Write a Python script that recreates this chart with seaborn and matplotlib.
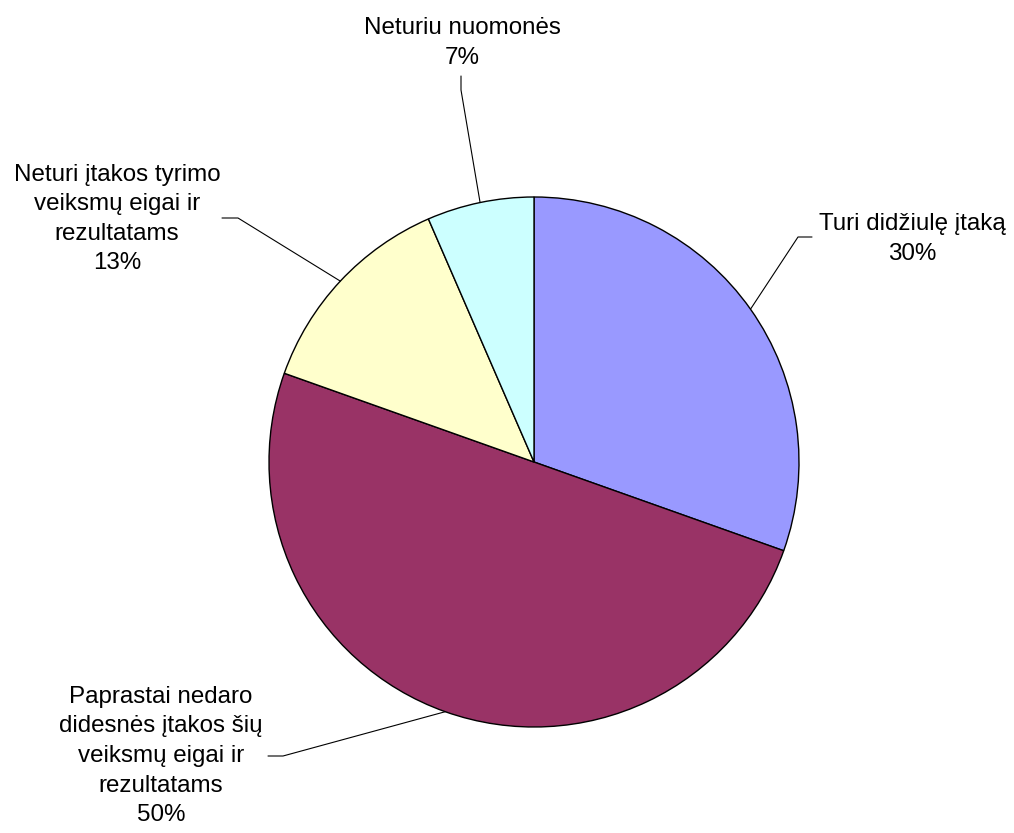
import numpy as np
import matplotlib.pyplot as plt
import seaborn as sns

sns.set_theme(style="white")
plt.rcParams["font.family"] = ["Liberation Sans", "DejaVu Sans"]

# data: answer counts (n = 46), shown as rounded percentages
labels = [
    "Turi didžiulę įtaką",
    "Paprastai nedaro\ndidesnės įtakos šių\nveiksmų eigai ir\nrezultatams",
    "Neturi įtakos tyrimo\nveiksmų eigai ir\nrezultatams",
    "Neturiu nuomonės",
]
counts = [14, 23, 6, 3]
colors = ["#9999FF", "#993366", "#FFFFCC", "#CCFFFF"]

W, H = 1014, 833
cx, cy, r = 534, H - 462, 265

# label layout in pixel coords (from top): text centre, elbow, stub end
text_pos = [(912, 239), (161, 756), (117, 219), (462, 43)]
elbows = [(798, 237), (283, 756), (238, 218), (461, 90)]
stubs = [(812, 237), (268, 756), (222, 218), (461, 76)]

fig = plt.figure(figsize=(W / 100, H / 100), dpi=100)
ax = fig.add_axes([0, 0, 1, 1])

wedges, _ = ax.pie(
    counts,
    colors=colors,
    startangle=90,
    counterclock=False,
    center=(cx, cy),
    radius=r,
    wedgeprops=dict(edgecolor="black", linewidth=1),
    frame=True,
)
ax.set_xlim(0, W)
ax.set_ylim(0, H)
ax.set_aspect("equal")
ax.axis("off")

total = sum(counts)
for w, lab, c, tp, el, st in zip(wedges, labels, counts, text_pos, elbows, stubs):
    mid = np.deg2rad((w.theta1 + w.theta2) / 2)
    anchor = (cx + r * np.cos(mid), cy + r * np.sin(mid))
    xs = [anchor[0], el[0], st[0]]
    ys = [anchor[1], H - el[1], H - st[1]]
    ax.plot(xs, ys, color="black", lw=0.8)
    pct = round(100 * c / total)
    ax.text(tp[0], H - tp[1], f"{lab}\n{pct}%", ha="center", va="center",
            multialignment="center", fontsize=17.4, linespacing=1.45, color="black")

fig.savefig("out.png", dpi=100)
